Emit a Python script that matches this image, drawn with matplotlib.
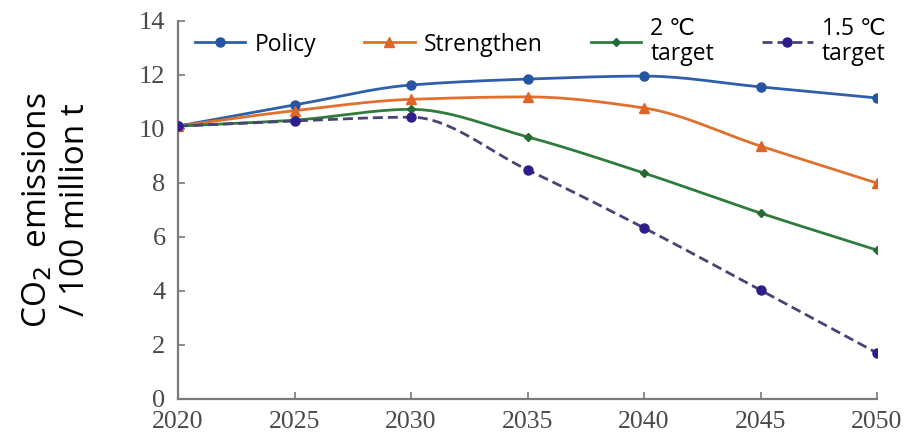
import numpy as np
import matplotlib
matplotlib.use("Agg")
import matplotlib.pyplot as plt

years = [2020, 2025, 2030, 2035, 2040, 2045, 2050]

policy = [10.1, 10.88, 11.62, 11.84, 11.95, 11.55, 11.14]
strengthen = [10.1, 10.67, 11.09, 11.18, 10.77, 9.36, 7.99]
target_2c = [10.1, 10.32, 10.72, 9.70, 8.36, 6.88, 5.51]
target_15c = [10.1, 10.29, 10.43, 8.48, 6.33, 4.03, 1.70]

labels = ["Policy", "Strengthen", "2 \u2103\ntarget", "1.5 \u2103\ntarget"]


def smooth(x, y, n=30):
    # monotone cubic (Fritsch-Carlson) curve through the points
    x = np.asarray(x, float)
    y = np.asarray(y, float)
    h = np.diff(x)
    d = np.diff(y) / h
    m = np.zeros_like(y)
    m[0], m[-1] = d[0], d[-1]
    for i in range(1, len(x) - 1):
        if d[i - 1] * d[i] <= 0:
            m[i] = 0.0
        else:
            w1 = 2 * h[i] + h[i - 1]
            w2 = h[i] + 2 * h[i - 1]
            m[i] = (w1 + w2) / (w1 / d[i - 1] + w2 / d[i])
    xs, ys = [], []
    for i in range(len(x) - 1):
        t = np.linspace(0, 1, n, endpoint=False)
        h00 = 2 * t**3 - 3 * t**2 + 1
        h10 = t**3 - 2 * t**2 + t
        h01 = -2 * t**3 + 3 * t**2
        h11 = t**3 - t**2
        xs.append(x[i] + t * h[i])
        ys.append(h00 * y[i] + h10 * h[i] * m[i] + h01 * y[i + 1] + h11 * h[i] * m[i + 1])
    xs.append([x[-1]])
    ys.append([y[-1]])
    return np.concatenate(xs), np.concatenate(ys)


series = [
    (policy, dict(color="#2f5fa9", mfc="#2554a1", mec="#2554a1", marker="o", ms=6.5, ls="-")),
    (strengthen, dict(color="#e0702e", mfc="#dd6626", mec="#dd6626", marker="^", ms=6.5, ls="-")),
    (target_2c, dict(color="#2f7c3c", mfc="#236b31", mec="#236b31", marker="D", ms=4, ls="-")),
    (target_15c, dict(color="#4b4275", mfc="#2d1e8c", mec="#2d1e8c", marker="o", ms=6.5, ls=(0, (3.6, 1.8)))),
]

fig = plt.figure(figsize=(9.06, 4.36), dpi=100)
ax = fig.add_axes([0.1965, 0.085, 0.7715, 0.8675])

handles = []
for (vals, st), lab in zip(series, labels):
    sx, sy = smooth(years, vals)
    ax.plot(sx, sy, color=st["color"], lw=2.0, ls=st["ls"], zorder=2)
    ax.plot(years, vals, ls="none", marker=st["marker"], ms=st["ms"],
            mfc=st["mfc"], mec=st["mec"], zorder=3)
    h, = ax.plot([], [], color=st["color"], lw=2.0, ls=st["ls"], marker=st["marker"],
                 ms=st["ms"], mfc=st["mfc"], mec=st["mec"])
    handles.append(h)

ax.set_xlim(2020, 2050)
ax.set_ylim(0, 14)
ax.set_xticks(years)
ax.set_yticks(range(0, 15, 2))

for side in ["top", "right"]:
    ax.spines[side].set_visible(False)
for side in ["left", "bottom"]:
    ax.spines[side].set_color("#7a7a7a")
    ax.spines[side].set_linewidth(1.6)

ax.tick_params(direction="in", length=5, width=1.2, color="#7a7a7a",
               labelcolor="#4a4a4a")
ax.tick_params(axis="y", pad=9, labelsize=19)
ax.tick_params(axis="x", pad=9, labelsize=18.5)
for lbl in ax.get_xticklabels() + ax.get_yticklabels():
    lbl.set_fontfamily("Liberation Serif")

ax.set_ylabel("CO$_2$  emissions\n/ 100 million t", fontsize=24,
              family=["Open Sans", "DejaVu Sans"], linespacing=1.2, labelpad=34)

leg = ax.legend(handles, labels, ncol=4, loc="center left", frameon=False,
                bbox_to_anchor=(0.011, 0.945), handlelength=2.2, handletextpad=0.4,
                columnspacing=2.1, borderaxespad=0.0,
                prop={"family": ["Open Sans", "DejaVu Sans"], "size": 16.5})
for t in leg.get_texts():
    t.set_linespacing(1.1)

fig.savefig("out.png", dpi=100, facecolor="white")
